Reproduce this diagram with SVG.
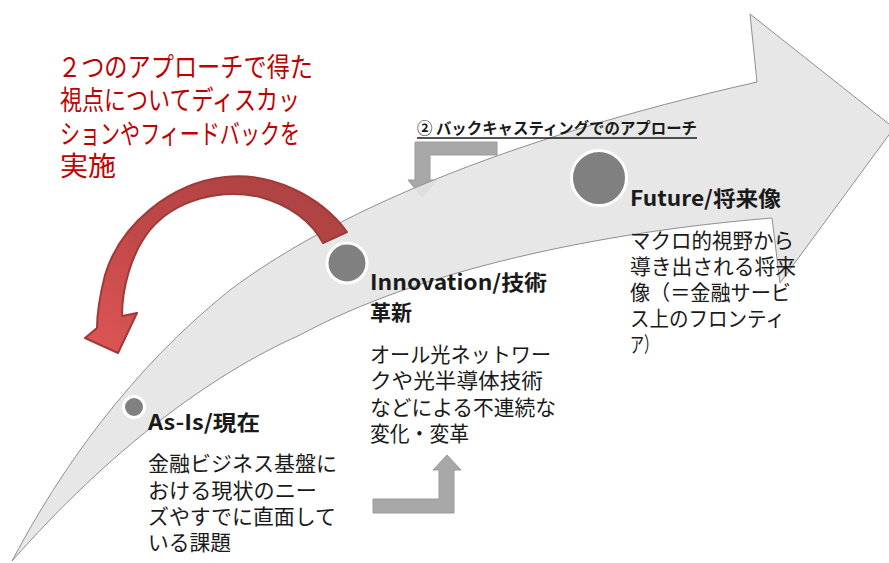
<svg xmlns="http://www.w3.org/2000/svg" width="889" height="563" viewBox="0 0 889 563">
<defs>
<linearGradient id="redGrad" x1="1" y1="0" x2="0" y2="1">
<stop offset="0" stop-color="#a94141"/>
<stop offset="0.55" stop-color="#c04848"/>
<stop offset="1" stop-color="#e05656"/>
</linearGradient>
<style>
.band{fill:#e4e4e4;fill-opacity:0.9;stroke:#8f8f8f;stroke-width:1}
.bent{fill:#a8a8a8;stroke:#9a9a9a;stroke-width:1}
.dot{fill:#808080;stroke:#ffffff;stroke-width:3}
.red{font-family:"Noto Sans CJK JP","Noto Sans",sans-serif;font-size:27px;fill:#c00000}
.head{font-family:"Noto Sans CJK JP","Noto Sans",sans-serif;font-size:21px;font-weight:bold;fill:#1a1a1a}
.body{font-family:"Noto Sans CJK JP","Noto Sans",sans-serif;font-size:21px;fill:#1a1a1a}
.label{font-family:"Noto Sans CJK JP","Noto Sans",sans-serif;font-size:16px;font-weight:bold;fill:#1a1a1a}
</style>
</defs>
<rect width="889" height="563" fill="#ffffff"/>

<g id="connectors">
<path id="backcast-arrow" class="bent" d="M415,142 L497,142 L497,155 L430,155 L430,180 L437,180 L422,197 L408,180 L415,180 Z"/>
</g>

<g id="main-arrow">
<path class="band" d="M12,561 C60,470 130,370 230,290 C330,215 500,140 757,82 L750,14 L894,128 L780,283 L772,218 C600,232 420,270 300,335 C210,375 110,450 12,561 Z"/>
</g>

<g id="connectors-front">
<path id="forecast-arrow" class="bent" d="M373,499 L439,499 L439,470 L433,470 L447,455 L461,470 L454,470 L454,513 L373,513 Z"/>
<path id="feedback-arrow" fill="url(#redGrad)" stroke="#9e3a3a" stroke-width="2" stroke-linejoin="round" d="M347,232 C320,195 270,172 225,177 C170,183 120,225 105,275 C100,295 97,315 97,328 L85,338 L118,353 L137,313 L122,316 C122,290 130,255 150,230 C175,200 220,188 260,197 C290,205 312,222 323,243 Z"/>
</g>

<g id="node-asis">
<circle class="dot" cx="134" cy="407" r="10.5"/>
<text class="head" x="148" y="430" textLength="112" lengthAdjust="spacingAndGlyphs">As-Is/現在</text>
<text class="body" x="148" y="471" textLength="189" lengthAdjust="spacingAndGlyphs">金融ビジネス基盤に</text>
<text class="body" x="148" y="498" textLength="169" lengthAdjust="spacingAndGlyphs">おける現状のニー</text>
<text class="body" x="148" y="524" textLength="188" lengthAdjust="spacingAndGlyphs">ズやすでに直面して</text>
<text class="body" x="148" y="550" textLength="83" lengthAdjust="spacingAndGlyphs">いる課題</text>
</g>

<g id="node-innovation">
<circle class="dot" cx="347" cy="263" r="20"/>
<text class="head" x="370" y="290" textLength="177" lengthAdjust="spacingAndGlyphs">Innovation/技術</text>
<text class="head" x="370" y="320" textLength="42" lengthAdjust="spacingAndGlyphs">革新</text>
<text class="body" x="370" y="362" textLength="181" lengthAdjust="spacingAndGlyphs">オール光ネットワー</text>
<text class="body" x="370" y="388" textLength="173" lengthAdjust="spacingAndGlyphs">クや光半導体技術</text>
<text class="body" x="370" y="415" textLength="186" lengthAdjust="spacingAndGlyphs">などによる不連続な</text>
<text class="body" x="370" y="441" textLength="99" lengthAdjust="spacingAndGlyphs">変化・変革</text>
</g>

<g id="node-future">
<circle class="dot" cx="599" cy="178" r="27.5"/>
<text class="head" x="630" y="206" textLength="151" lengthAdjust="spacingAndGlyphs">Future/将来像</text>
<text class="body" x="630" y="248" textLength="164" lengthAdjust="spacingAndGlyphs">マクロ的視野から</text>
<text class="body" x="630" y="274" textLength="166" lengthAdjust="spacingAndGlyphs">導き出される将来</text>
<text class="body" x="630" y="300" textLength="161" lengthAdjust="spacingAndGlyphs">像（＝金融サービ</text>
<text class="body" x="630" y="326" textLength="155" lengthAdjust="spacingAndGlyphs">ス上のフロンティ</text>
<text class="body" x="630" y="352" textLength="28" lengthAdjust="spacingAndGlyphs">ア）</text>
</g>

<g id="label-backcasting">
<text class="label" x="417" y="134" textLength="280" lengthAdjust="spacingAndGlyphs">② バックキャスティングでのアプローチ</text>
<line x1="417" y1="138" x2="697" y2="138" stroke="#1a1a1a" stroke-width="1.3"/>
</g>

<g id="label-feedback">
<text class="red" x="58" y="77" textLength="255" lengthAdjust="spacingAndGlyphs">２つのアプローチで得た</text>
<text class="red" x="60" y="110" textLength="240" lengthAdjust="spacingAndGlyphs">視点についてディスカッ</text>
<text class="red" x="60" y="144" textLength="240" lengthAdjust="spacingAndGlyphs">ションやフィードバックを</text>
<text class="red" x="60" y="176" textLength="56" lengthAdjust="spacingAndGlyphs">実施</text>
</g>
</svg>
